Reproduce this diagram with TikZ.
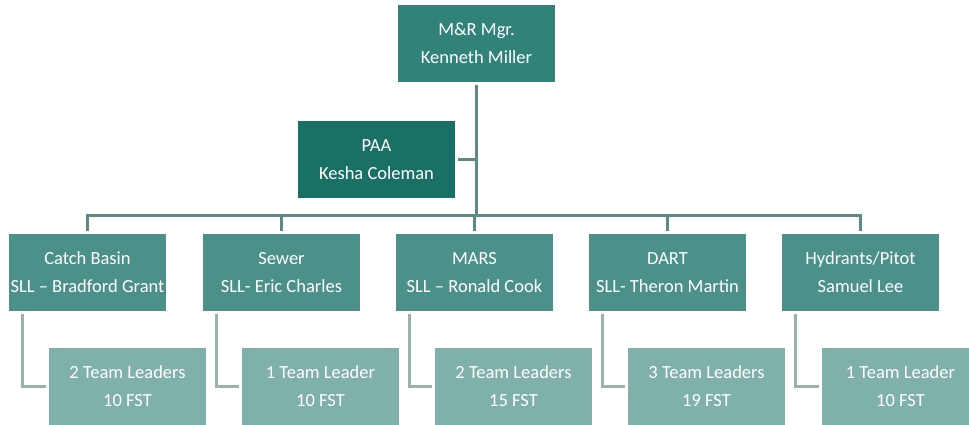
\documentclass[tikz,border=0pt]{standalone}
\usepackage{fontspec}
\setmainfont{Carlito}
\definecolor{topc}{HTML}{31837A}
\definecolor{paac}{HTML}{1B7066}
\definecolor{midc}{HTML}{4C9189}
\definecolor{lowc}{HTML}{7FB0AA}
\definecolor{busc}{HTML}{5E8A83}
\definecolor{subc}{HTML}{9BB2AC}
\begin{document}
\begin{tikzpicture}[x=1pt,y=1pt,
  box/.style={minimum width=157pt,minimum height=77pt,inner sep=0pt,text=white,align=center,
    font=\fontsize{18.5}{28}\selectfont},
  mgrbox/.style={box,fill=topc},
  paabox/.style={box,fill=paac},
  midbox/.style={box,fill=midc},
  lowbox/.style={box,fill=lowc},
  busline/.style={draw=busc,line width=3pt},
  subline/.style={draw=subc,line width=3pt}]
\useasboundingbox (0,0) rectangle (969,-424);
\clip (0,0) rectangle (969,-424);
\node[mgrbox] (mgr) at (476.5,-43.5) {M\&R Mgr.\\Kenneth Miller};
\node[paabox] (paa) at (376.5,-159.5) {PAA\\Kesha Coleman};
\node[midbox] (cb) at (87.5,-272.5) {Catch Basin\\SLL – Bradford Grant};
\node[midbox] (sw) at (281.5,-272.5) {Sewer\\SLL- Eric Charles};
\node[midbox] (ma) at (474.5,-272.5) {MARS\\SLL – Ronald Cook};
\node[midbox] (da) at (667.5,-272.5) {DART\\SLL- Theron Martin};
\node[midbox] (hy) at (860.5,-272.5) {Hydrants/Pitot\\Samuel Lee};
\node[lowbox] (cbt) at (127.5,-386.5) {2 Team Leaders\\10 FST};
\node[lowbox] (swt) at (320.5,-386.5) {1 Team Leader\\10 FST};
\node[lowbox] (mat) at (513.5,-386.5) {2 Team Leaders\\15 FST};
\node[lowbox] (dat) at (706.5,-386.5) {3 Team Leaders\\19 FST};
\node[lowbox] (hyt) at (900.5,-386.5) {1 Team Leader\\10 FST};
\coordinate (bus) at (476.5,-215);
\draw[busline] ([yshift=-3pt]mgr.south) -- (bus);
\draw[busline] ([xshift=3pt]paa.east) -- (paa.east -| bus);
\draw[busline] ([yshift=3pt]cb.north) |- (bus) -| ([yshift=3pt]hy.north);
\draw[busline] ([yshift=3pt]sw.north) -- (sw.north |- bus);
\draw[busline] ([yshift=3pt]ma.north) -- (ma.north |- bus);
\draw[busline] ([yshift=3pt]da.north) -- (da.north |- bus);
\draw[subline] ([xshift=14pt,yshift=-3pt]cb.south west) |- ([xshift=-3pt]cbt.west);
\draw[subline] ([xshift=14pt,yshift=-3pt]sw.south west) |- ([xshift=-3pt]swt.west);
\draw[subline] ([xshift=14pt,yshift=-3pt]ma.south west) |- ([xshift=-3pt]mat.west);
\draw[subline] ([xshift=14pt,yshift=-3pt]da.south west) |- ([xshift=-3pt]dat.west);
\draw[subline] ([xshift=14pt,yshift=-3pt]hy.south west) |- ([xshift=-3pt]hyt.west);
\end{tikzpicture}
\end{document}
